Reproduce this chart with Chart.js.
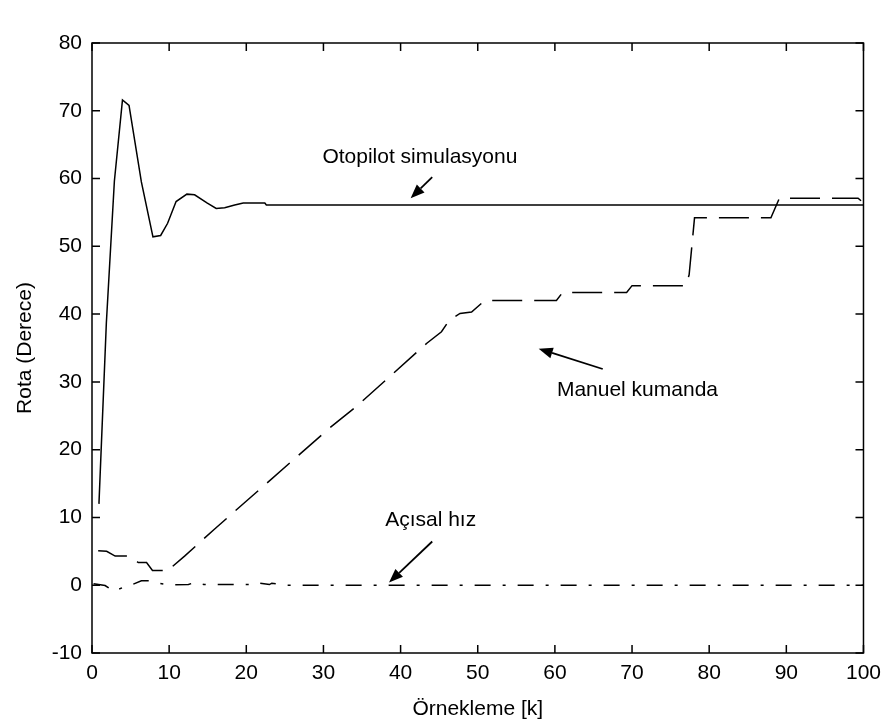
<!DOCTYPE html>
<html lang="tr">
<head>
<meta charset="UTF-8">
<title>Rota - Örnekleme</title>
<script src="https://cdn.jsdelivr.net/npm/chart.js"></script>
<style>
  html, body { margin: 0; padding: 0; background: #fff; }
  #kutu { width: 889px; height: 727px; }
</style>
</head>
<body>
<div id="kutu"><canvas id="grafik" width="889" height="727"></canvas></div>
<script>
// Otopilot simulasyonu (düz çizgi)
const otopilotK    = [0.9, 1.86, 2.9, 3.95, 4.8, 6.4, 7.9, 8.9, 9.8, 10.9, 12.3, 13.3, 14.9, 16.1, 17.2, 18.5, 19.6, 22.4, 22.6, 100];
const otopilotRota = [12, 38.7, 59.6, 71.6, 70.8, 59.5, 51.4, 51.6, 53.4, 56.6, 57.7, 57.6, 56.4, 55.6, 55.7, 56.1, 56.4, 56.4, 56.1, 56.1];

// Manuel kumanda (kesikli çizgi)
const manuelK    = [0.8, 1.9, 3.0, 4.9, 6.0, 7.07, 7.84, 10.0, 10.43, 12.0, 15.9, 30.8, 34.3, 43.4, 45.3, 46.3, 47.7, 49.2, 50.9, 60.2, 61.0, 69.3, 70.0, 77.0, 77.4, 78.1, 88.0, 89.1, 99.3, 100];
const manuelRota = [5.1, 5.0, 4.3, 4.3, 3.35, 3.35, 2.17, 2.17, 2.76, 4.3, 8.3, 23.2, 26.4, 35.7, 37.4, 39.1, 40.1, 40.3, 42.0, 42.0, 43.2, 43.2, 44.2, 44.2, 45.8, 54.2, 54.2, 57.1, 57.1, 56.4];

// Açısal hız (kesik-noktalı çizgi)
const acisalK   = [0.2, 1.7, 2.8, 4.3, 5.0, 6.4, 7.3, 8.5, 10, 12.5, 13.3, 14.5, 21, 21.4, 23, 23.3, 25, 100];
const acisalHiz = [0.2, -0.05, -0.9, -0.2, 0, 0.65, 0.65, 0.3, 0.05, 0.1, 0.4, 0.1, 0.1, 0.35, 0.1, 0.3, 0, 0];

// eksen tikleri
const xTikleri = [0, 10, 20, 30, 40, 50, 60, 70, 80, 90, 100];
const yTikleri = [-10, 0, 10, 20, 30, 40, 50, 60, 70, 80];

const yazi = '"Liberation Sans", Arial, sans-serif';

function noktalar(ks, vs) {
  return ks.map((k, i) => ({ x: k, y: vs[i] }));
}

// açıklama yazıları ve oklar (veri koordinatında)
const notlar = [
  { metin: 'Otopilot simulasyonu', tx: 42.5, ty: 63.2, ok: [44.1, 60.2, 41.3, 57.1] },
  { metin: 'Manuel kumanda',       tx: 70.7, ty: 28.7, ok: [66.2, 31.9, 57.9, 34.9] },
  { metin: 'Açısal hız',           tx: 43.9, ty: 9.6,  ok: [44.1, 6.45, 38.5, 0.4] }
];

const cerceve = {
  id: 'cerceve',
  afterDatasetsDraw(chart) {
    const { ctx, chartArea: a, scales: { x, y } } = chart;
    ctx.save();
    ctx.strokeStyle = '#000';
    ctx.fillStyle = '#000';
    ctx.lineWidth = 1.5;
    ctx.strokeRect(a.left, a.top, a.right - a.left, a.bottom - a.top);

    // içe dönük tikler, dört kenarda
    const L = 8;
    ctx.beginPath();
    xTikleri.forEach(v => {
      const px = x.getPixelForValue(v);
      ctx.moveTo(px, a.bottom); ctx.lineTo(px, a.bottom - L);
      ctx.moveTo(px, a.top);    ctx.lineTo(px, a.top + L);
    });
    yTikleri.forEach(v => {
      const py = y.getPixelForValue(v);
      ctx.moveTo(a.left, py);  ctx.lineTo(a.left + L, py);
      ctx.moveTo(a.right, py); ctx.lineTo(a.right - L, py);
    });
    ctx.stroke();

    // notlar
    ctx.font = '21px ' + yazi;
    ctx.textAlign = 'center';
    ctx.textBaseline = 'middle';
    notlar.forEach(n => {
      ctx.fillText(n.metin, x.getPixelForValue(n.tx), y.getPixelForValue(n.ty));
      const x1 = x.getPixelForValue(n.ok[0]), y1 = y.getPixelForValue(n.ok[1]);
      const x2 = x.getPixelForValue(n.ok[2]), y2 = y.getPixelForValue(n.ok[3]);
      const aci = Math.atan2(y2 - y1, x2 - x1);
      const boy = 14, en = 5.5;
      const bx = x2 - boy * Math.cos(aci), by = y2 - boy * Math.sin(aci);
      ctx.lineWidth = 1.8;
      ctx.beginPath();
      ctx.moveTo(x1, y1); ctx.lineTo(bx, by);
      ctx.stroke();
      ctx.beginPath();
      ctx.moveTo(x2, y2);
      ctx.lineTo(bx + en * Math.sin(aci), by - en * Math.cos(aci));
      ctx.lineTo(bx - en * Math.sin(aci), by + en * Math.cos(aci));
      ctx.closePath();
      ctx.fill();
    });
    ctx.restore();
  }
};

new Chart(document.getElementById('grafik'), {
  type: 'line',
  data: {
    datasets: [
      {
        label: 'Otopilot simulasyonu',
        data: noktalar(otopilotK, otopilotRota),
        borderColor: '#000', borderWidth: 1.5
      },
      {
        label: 'Manuel kumanda',
        data: noktalar(manuelK, manuelRota),
        borderColor: '#000', borderWidth: 1.5,
        borderDash: [30, 12]
      },
      {
        label: 'Açısal hız',
        data: noktalar(acisalK, acisalHiz),
        borderColor: '#000', borderWidth: 1.5,
        borderDash: [16, 12, 3, 12]
      }
    ]
  },
  options: {
    responsive: false,
    animation: false,
    layout: { padding: { top: 43, right: 22, left: 0, bottom: 0 } },
    elements: { point: { radius: 0 }, line: { tension: 0, fill: false } },
    plugins: { legend: { display: false }, tooltip: { enabled: false } },
    scales: {
      x: {
        type: 'linear', min: 0, max: 100,
        afterBuildTicks: s => { s.ticks = xTikleri.map(v => ({ value: v })); },
        afterFit: s => { s.height = 74; },
        grid: { display: false, drawTicks: false },
        border: { display: false },
        ticks: { color: '#000', padding: 8, font: { family: yazi, size: 21 } },
        title: {
          display: true, text: 'Örnekleme [k]', color: '#000',
          font: { family: yazi, size: 21 }, padding: { top: 0, bottom: 5 }
        }
      },
      y: {
        type: 'linear', min: -10, max: 80,
        afterBuildTicks: s => { s.ticks = yTikleri.map(v => ({ value: v })); },
        afterFit: s => { s.width = 92; },
        grid: { display: false, drawTicks: false },
        border: { display: false },
        ticks: { color: '#000', padding: 10, font: { family: yazi, size: 21 } },
        title: {
          display: true, text: 'Rota (Derece)', color: '#000',
          font: { family: yazi, size: 21 }, padding: { top: 13, bottom: 0 }
        }
      }
    }
  },
  plugins: [cerceve]
});
</script>
</body>
</html>
